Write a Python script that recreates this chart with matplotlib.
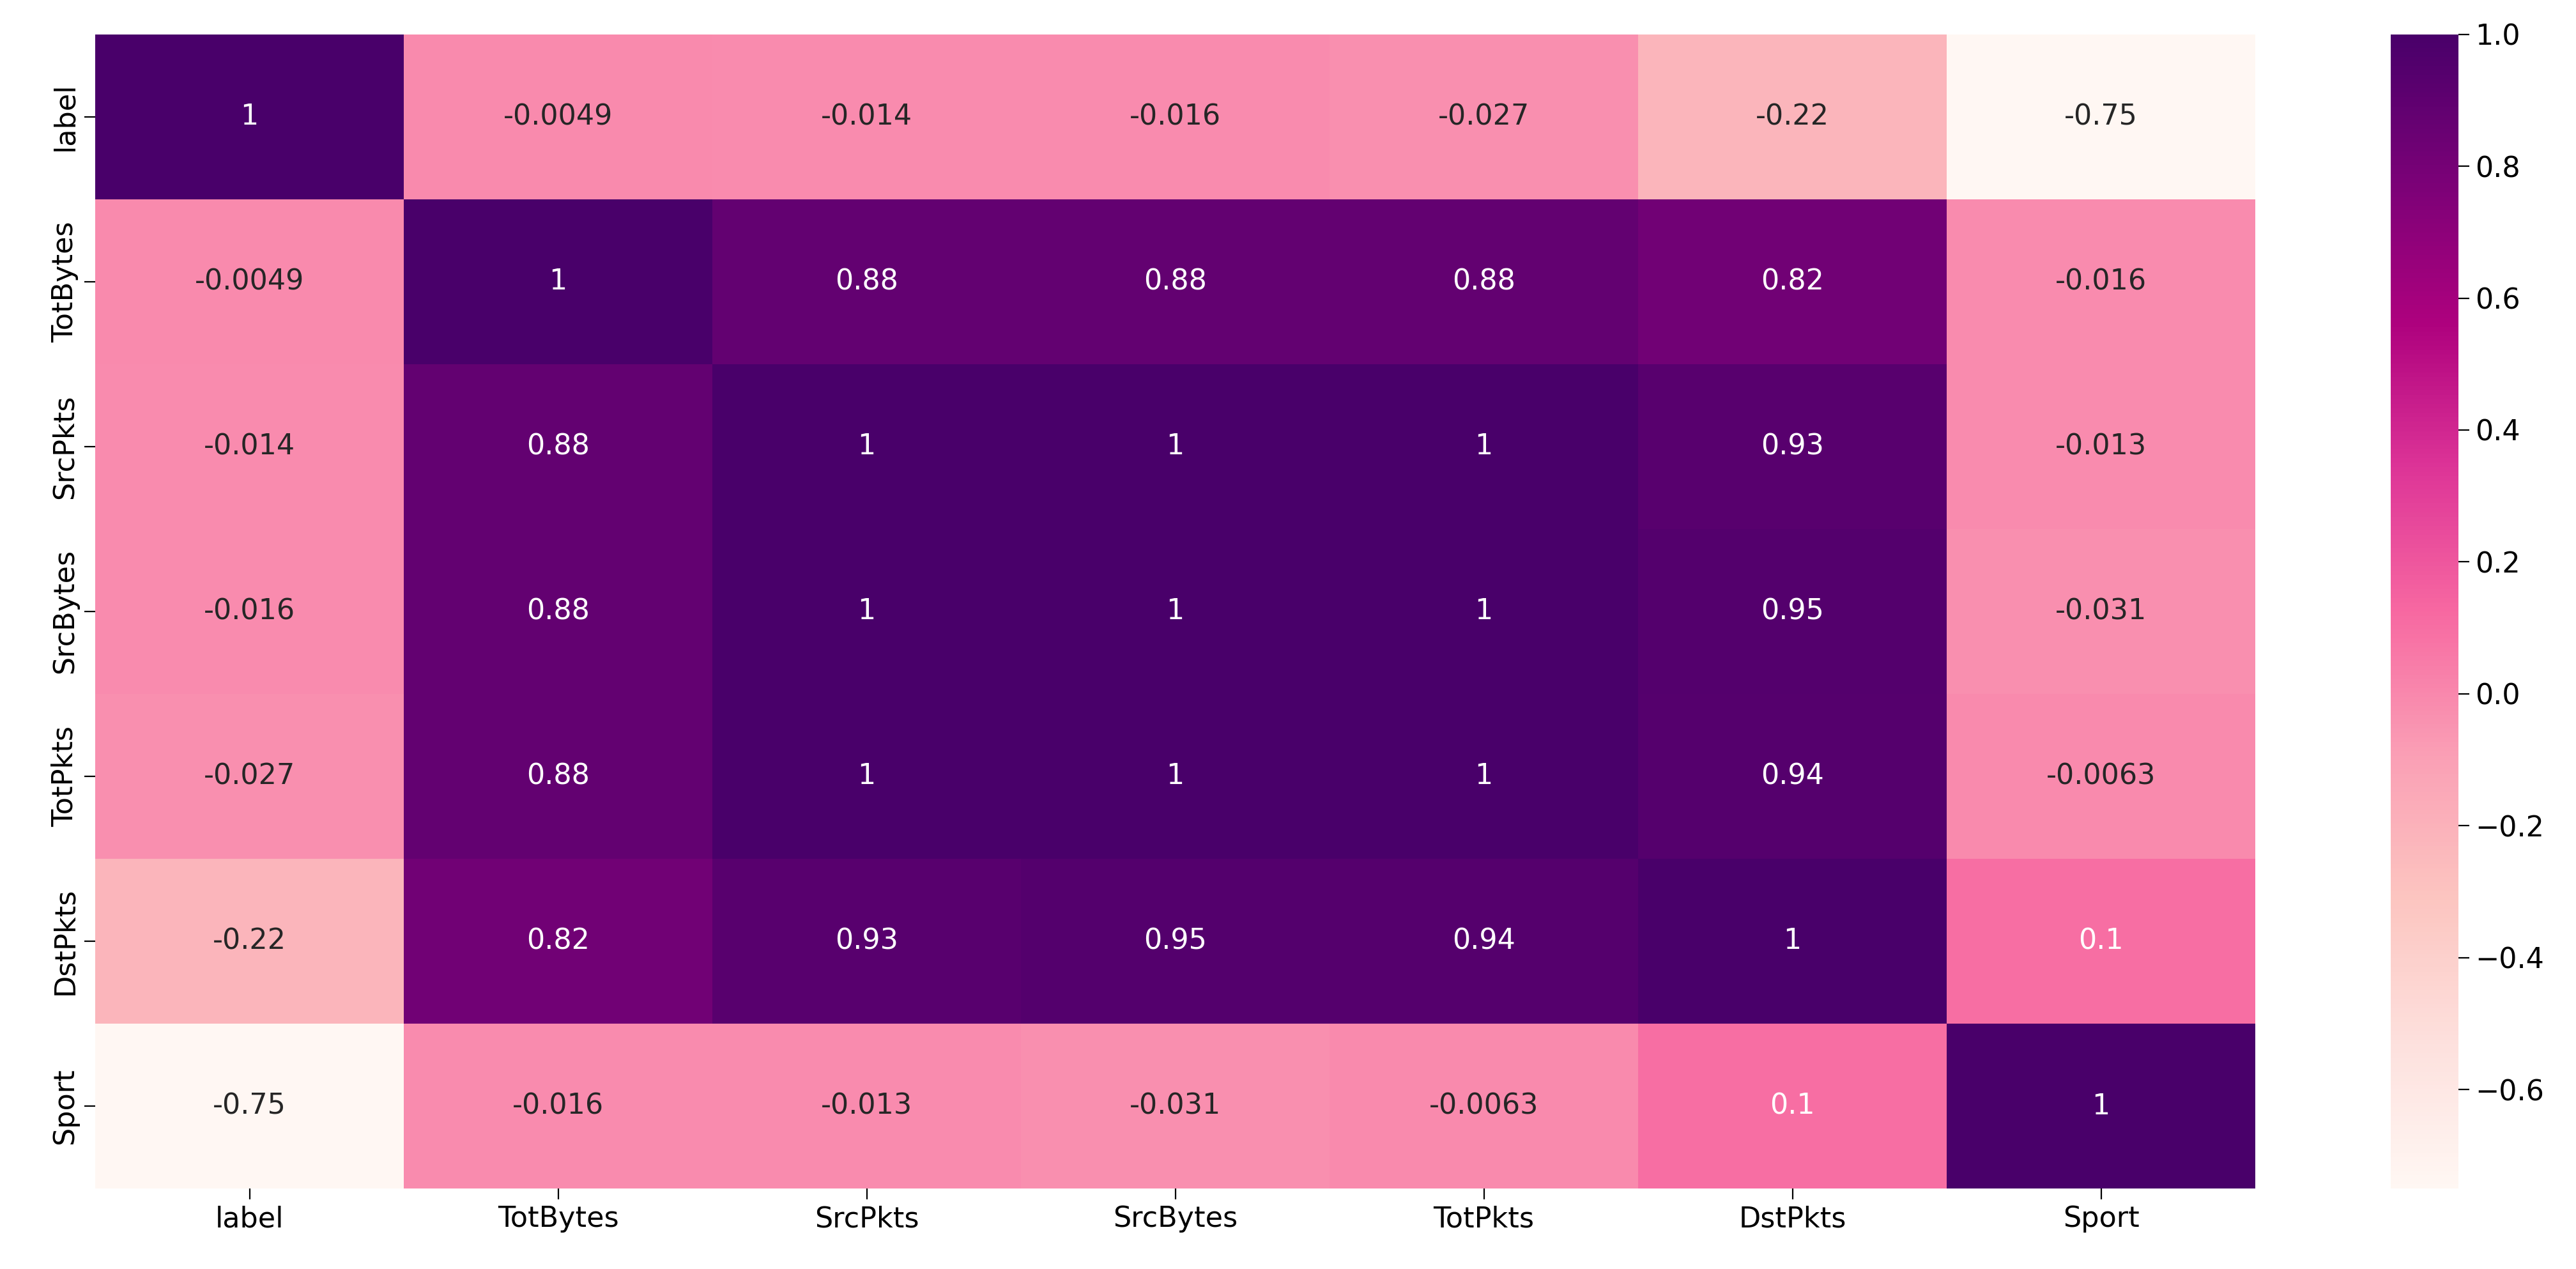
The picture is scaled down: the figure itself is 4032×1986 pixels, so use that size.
import numpy as np
import pandas as pd
import matplotlib
matplotlib.use("Agg")
import matplotlib.pyplot as plt
import seaborn as sns

# feature names (same order on both axes)
cols = ["label", "TotBytes", "SrcPkts", "SrcBytes", "TotPkts", "DstPkts", "Sport"]

# correlation values, row by row
r_label    = [1, -0.0049, -0.014, -0.016, -0.027, -0.22, -0.75]
r_totbytes = [-0.0049, 1, 0.88, 0.88, 0.88, 0.82, -0.016]
r_srcpkts  = [-0.014, 0.88, 1, 1, 1, 0.93, -0.013]
r_srcbytes = [-0.016, 0.88, 1, 1, 1, 0.95, -0.031]
r_totpkts  = [-0.027, 0.88, 1, 1, 1, 0.94, -0.0063]
r_dstpkts  = [-0.22, 0.82, 0.93, 0.95, 0.94, 1, 0.1]
r_sport    = [-0.75, -0.016, -0.013, -0.031, -0.0063, 0.1, 1]

corr = pd.DataFrame([r_label, r_totbytes, r_srcpkts, r_srcbytes,
                     r_totpkts, r_dstpkts, r_sport], index=cols, columns=cols)

fig = plt.figure(figsize=(20.16, 9.93), dpi=200)
ax = fig.add_axes([0.037, 0.0634, 0.8385, 0.9096])
cax = fig.add_axes([0.928, 0.0634, 0.0263, 0.9096])

sns.heatmap(corr, annot=True, cmap="RdPu", ax=ax, cbar_ax=cax,
            annot_kws={"fontsize": 16})

ax.tick_params(axis="both", labelsize=16, length=6)
cax.tick_params(labelsize=16, length=6)
cax.set_yticks([-0.6, -0.4, -0.2, 0.0, 0.2, 0.4, 0.6, 0.8, 1.0])

fig.savefig("out.png", dpi=200)
